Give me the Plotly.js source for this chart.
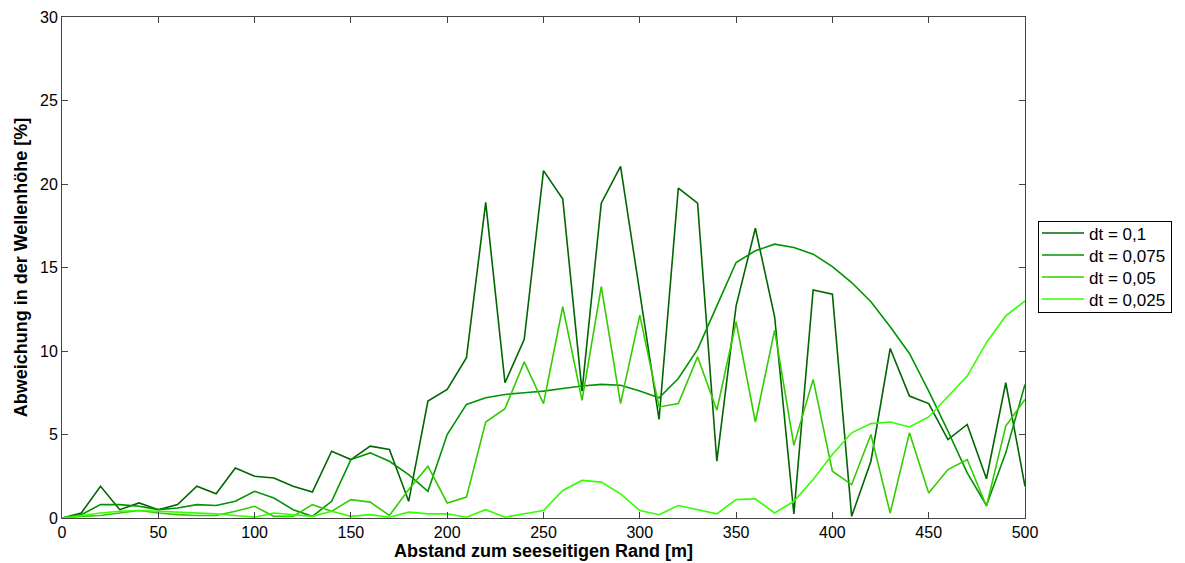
<!DOCTYPE html>
<html>
<head>
<meta charset="utf-8">
<script src="https://cdn.plot.ly/plotly-3.0.1.min.js"></script>
<style>html,body{margin:0;padding:0;background:#fff;}#chart{width:1185px;height:563px;}</style>
</head>
<body>
<div id="chart"></div>
<script>
const distance = [0,10,20,30,40,50,60,70,80,90,100,110,120,130,140,150,160,170,180,190,200,210,220,230,240,250,260,270,280,290,300,310,320,330,340,350,360,370,380,390,400,410,420,430,440,450,460,470,480,490,500];

const dt0100 = [0,0.3,1.9,0.5,0.9,0.5,0.8,1.9,1.45,3.0,2.5,2.4,1.9,1.55,4.0,3.5,4.3,4.1,1.0,7.0,7.7,9.6,18.9,8.1,10.7,20.8,19.1,7.6,18.85,21.05,13.5,5.9,19.75,18.85,3.4,12.7,17.35,12.05,0.25,13.65,13.4,0.1,3.4,10.15,7.3,6.85,4.7,5.6,2.35,8.1,1.9];

const dt0075 = [0,0.2,0.8,0.8,0.7,0.5,0.6,0.8,0.75,1.0,1.6,1.2,0.5,0.1,1.0,3.5,3.9,3.4,2.6,1.6,5.0,6.8,7.2,7.4,7.5,7.6,7.75,7.9,8.0,7.95,7.6,7.2,8.35,10.1,12.7,15.3,16.0,16.4,16.2,15.8,15.05,14.1,12.95,11.45,9.85,7.6,5.2,2.7,0.75,3.9,8.0];

const dt0050 = [0,0.1,0.15,0.3,0.45,0.3,0.2,0.15,0.15,0.4,0.7,0.1,0.1,0.8,0.4,1.1,0.95,0.15,1.7,3.1,0.9,1.25,5.75,6.55,9.35,6.85,12.65,7.05,13.85,6.85,12.15,6.65,6.85,9.65,6.45,11.75,5.75,11.25,4.35,8.3,2.8,2.0,5.0,0.3,5.1,1.5,2.9,3.5,0.7,5.5,7.1];

const dt0025 = [0,0.15,0.3,0.4,0.45,0.4,0.35,0.3,0.25,0.15,0.05,0.3,0.2,0.1,0.4,0.1,0.2,0.05,0.35,0.25,0.25,0.05,0.5,0.05,0.25,0.45,1.65,2.25,2.15,1.45,0.45,0.2,0.75,0.5,0.25,1.1,1.15,0.3,1.0,2.3,3.8,5.1,5.65,5.75,5.45,6.05,7.3,8.5,10.5,12.1,13.0];

const seriesNames = ["dt = 0,1","dt = 0,075","dt = 0,05","dt = 0,025"];
const seriesColors = ["#006600","#009400","#33cc00","#33ff00"];
const seriesData = [dt0100, dt0075, dt0050, dt0025];

const xTicks = [0,50,100,150,200,250,300,350,400,450,500];
const yTicks = [0,5,10,15,20,25,30];

const traces = seriesData.map((ys, i) => ({
  x: distance,
  y: ys,
  type: 'scatter',
  mode: 'lines',
  name: seriesNames[i],
  line: {color: seriesColors[i], width: 1.6}
}));

const fontFam = 'Liberation Sans, Arial, Helvetica, sans-serif';

const axisCommon = {
  showgrid: false,
  zeroline: false,
  showline: true,
  linecolor: '#444',
  linewidth: 1,
  mirror: 'ticks',
  ticks: 'inside',
  ticklen: 6,
  tickcolor: '#444',
  tickfont: {family: fontFam, size: 16, color: '#000'}
};

const layout = {
  width: 1185,
  height: 563,
  paper_bgcolor: '#fff',
  plot_bgcolor: '#fff',
  margin: {l: 62, r: 160, t: 17, b: 45},
  font: {family: fontFam, color: '#000'},
  xaxis: Object.assign({}, axisCommon, {
    range: [0, 500],
    tickvals: xTicks,
    ticktext: xTicks.map(String),
    title: {text: 'Abstand zum seeseitigen Rand [m]', font: {family: fontFam, size: 18, color: '#000', weight: 'bold'}, standoff: 2}
  }),
  yaxis: Object.assign({}, axisCommon, {
    range: [0, 30],
    tickvals: yTicks,
    ticktext: yTicks.map(String),
    title: {text: 'Abweichung in der Wellenhöhe [%]', font: {family: fontFam, size: 18, color: '#000', weight: 'bold'}, standoff: 7}
  }),
  showlegend: true,
  legend: {
    x: 1.0135,
    xanchor: 'left',
    y: 0.592,
    yanchor: 'top',
    bgcolor: '#fff',
    bordercolor: '#000',
    borderwidth: 1,
    font: {family: fontFam, size: 17, color: '#000'},
    tracegroupgap: 0,
    itemwidth: 40
  }
};

Plotly.newPlot('chart', traces, layout, {displayModeBar: false, staticPlot: true}).then(gd => {
  gd.querySelectorAll('.legend .legendlines path').forEach(p => p.setAttribute('d', 'M3,0h42'));
  const items = gd.querySelectorAll('.legend .traces');
  if (items.length) {
    const m = /translate\(([-\d.]+),\s*([-\d.]+)\)/.exec(items[0].getAttribute('transform') || '');
    if (m) {
      const x0 = parseFloat(m[1]);
      const y0 = parseFloat(m[2]) - 7;
      items.forEach((it, i) => it.setAttribute('transform', 'translate(' + x0 + ',' + (y0 + i * 22) + ')'));
      const bg = gd.querySelector('.legend rect.bg');
      if (bg) bg.setAttribute('height', 91);
    }
  }
});
</script>
</body>
</html>
